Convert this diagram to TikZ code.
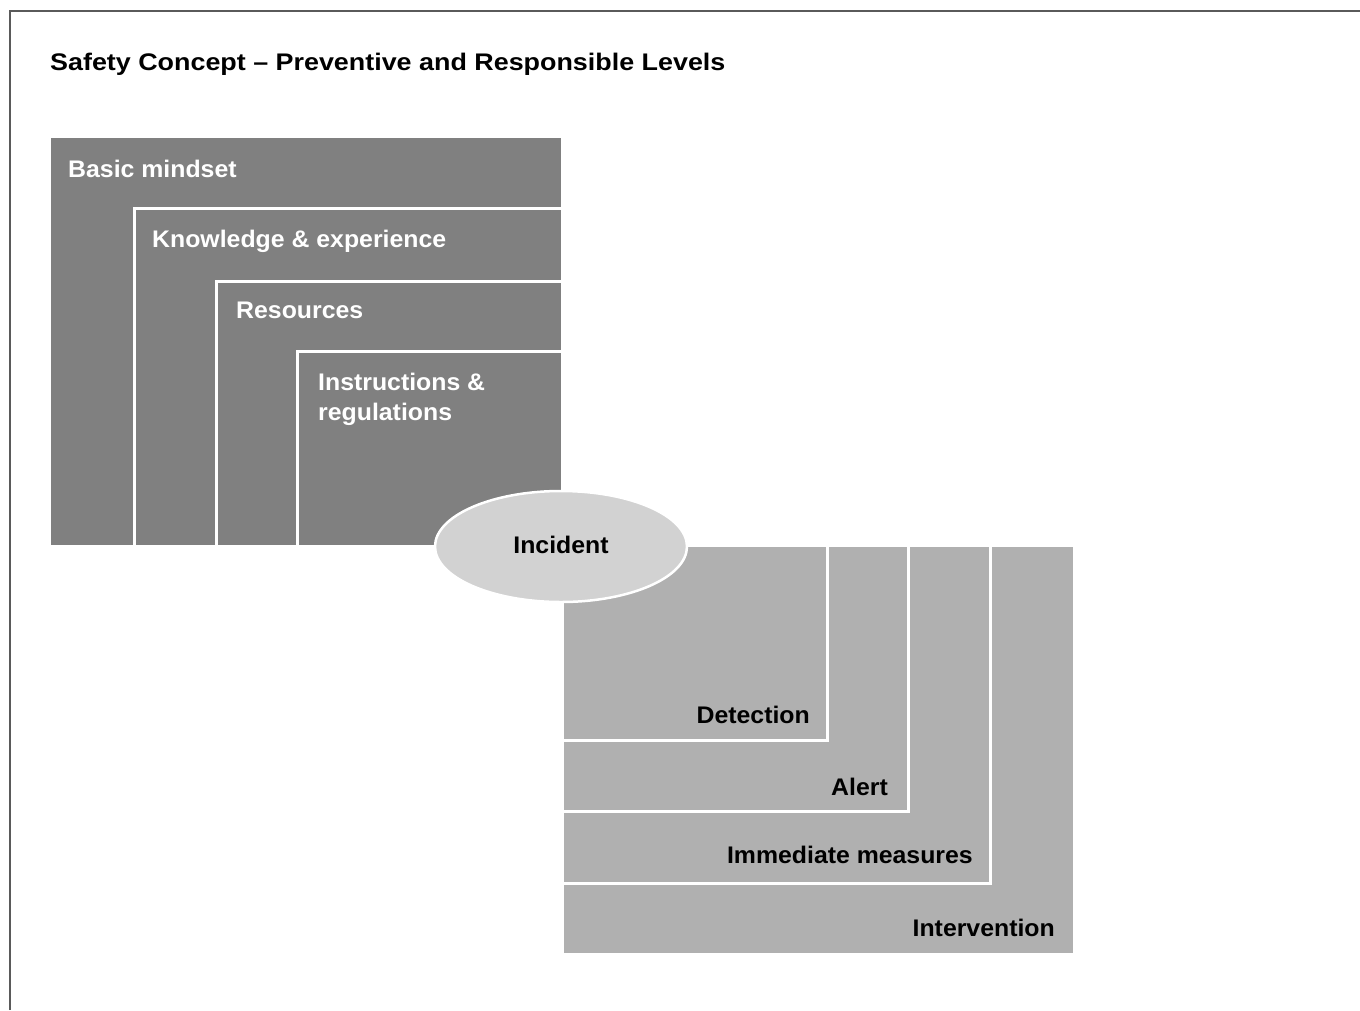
\documentclass[tikz,border=0pt]{standalone}
\usepackage{fontspec}
\setmainfont{Liberation Sans}
\newfontfamily\bodyfont[FakeStretch=1.035]{Liberation Sans}
\newfontfamily\titlefont[FakeStretch=1.12]{Liberation Sans}
\usetikzlibrary{shapes.geometric}
\definecolor{darkbox}{HTML}{808080}
\definecolor{lightbox}{HTML}{B0B0B0}
\definecolor{incfill}{HTML}{D2D2D2}
\definecolor{frameline}{HTML}{5A5A5A}
\tikzset{
  upbox/.style={fill=darkbox, draw=white, line width=3pt},
  lowbox/.style={fill=lightbox, draw=white, line width=3pt},
  lbl/.style={font=\bodyfont\fontsize{24}{30}\selectfont\bfseries, inner sep=0pt},
  uplabel/.style={lbl, text=white, anchor=base west},
  lowlabel/.style={lbl, text=black, anchor=base east},
}
\begin{document}
\begin{tikzpicture}[x=1pt, y=-1pt]
\useasboundingbox (0,0) rectangle (1360,1010);
% frame
\draw[frameline, line width=1.5pt] (10,1010) -- (10,11) -- (1360,11);
% title
\node[inner sep=0pt, anchor=base west, font=\titlefont\fontsize{24}{28}\selectfont\bfseries] (title) at (50,70) {Safety Concept – Preventive and Responsible Levels};
% upper (preventive) block
\path[upbox] (49.5,136.5) rectangle (562.5,546.5);
\path[upbox] (134.5,208.5) rectangle (562.5,546.5);
\path[upbox] (216.5,281) rectangle (562.5,546.5);
\path[upbox] (297.5,351.5) rectangle (562.5,546.5);
\node[uplabel] (basic) at (68,177) {Basic mindset};
\node[uplabel] (know) at (152,247) {Knowledge \& experience};
\node[uplabel] (res) at (236,318) {Resources};
\node[uplabel] (instr) at (318,390) {Instructions \&};
\node[uplabel] (regs) at (318,420) {regulations};
% lower (responsive) block
\path[lowbox] (562.5,545.5) rectangle (1074.5,954.5);
\path[lowbox] (562.5,545.5) rectangle (990.5,883.5);
\path[lowbox] (562.5,545.5) rectangle (908.5,811);
\path[lowbox] (562.5,545.5) rectangle (827,740);
\node[lowlabel] (det) at (810,723) {Detection};
\node[lowlabel] (alert) at (888,795) {Alert};
\node[lowlabel] (imm) at (973,863) {Immediate measures};
\node[lowlabel] (inter) at (1055,936) {Intervention};
% incident
\node[ellipse, fill=incfill, draw=white, line width=2.5pt, minimum width=252pt, minimum height=111pt, inner sep=0pt] (incident) at (561,546.5) {};
\node[lbl, anchor=base] (inclabel) at (561,553) {Incident};
\end{tikzpicture}
\end{document}
